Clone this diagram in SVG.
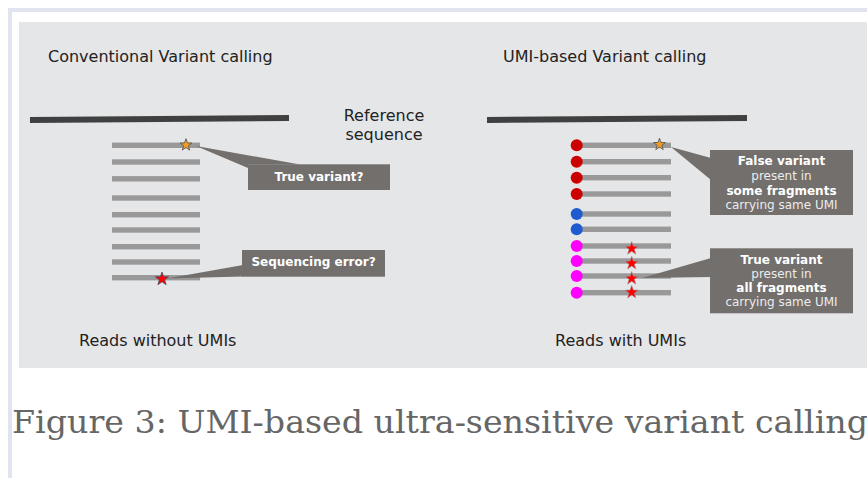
<svg xmlns="http://www.w3.org/2000/svg" width="867" height="478" viewBox="0 0 867 478">
<style>
.h{font-family:"DejaVu Sans",Verdana,sans-serif;font-size:16px;fill:#222}
.cb{font-family:"DejaVu Sans",Verdana,sans-serif;font-size:12px;fill:#fff;text-anchor:middle}
.b{font-weight:bold}
.l{fill:#ececec}
.read{fill:#999}
.box{fill:#736f6d}
.cap{font-family:"DejaVu Serif","Liberation Serif",serif;font-size:31px;fill:#666}
.ref{stroke:#404040;stroke-width:6}
</style>
<defs>
<path id="star" d="M0,-7 L1.646,-2.265 L6.657,-2.163 L2.663,0.865 L4.114,5.663 L0,2.8 L-4.114,5.663 L-2.663,0.865 L-6.657,-2.163 L-1.646,-2.265 Z"/>
</defs>
<rect width="867" height="478" fill="#fff"/>
<rect x="8" y="8" width="859" height="4" fill="#dfe4ee"/>
<rect x="8" y="8" width="4" height="470" fill="#dfe4ee"/>
<rect x="19" y="22" width="848" height="346" fill="#e5e6e8"/>

<g id="titles">
<text class="h" x="48" y="62">Conventional Variant calling</text>
<text class="h" x="503" y="62">UMI-based Variant calling</text>
<text class="h" x="384" y="121" text-anchor="middle">Reference</text>
<text class="h" x="384" y="140" text-anchor="middle">sequence</text>
<text class="h" x="79" y="346">Reads without UMIs</text>
<text class="h" x="555" y="346">Reads with UMIs</text>
</g>

<g id="reference">
<line class="ref" x1="30" y1="120" x2="289" y2="118"/>
<line class="ref" x1="487" y1="120" x2="747" y2="118"/>
</g>

<g id="left-reads">
<rect class="read" x="112" y="142.6" width="88" height="5.4"/>
<rect class="read" x="112" y="159.3" width="88" height="5.4"/>
<rect class="read" x="112" y="176.1" width="88" height="5.4"/>
<rect class="read" x="112" y="195.3" width="88" height="5.4"/>
<rect class="read" x="112" y="212" width="88" height="5.4"/>
<rect class="read" x="112" y="227.3" width="88" height="5.4"/>
<rect class="read" x="112" y="244" width="88" height="5.4"/>
<rect class="read" x="112" y="259.3" width="88" height="5.4"/>
<rect class="read" x="112" y="275" width="88" height="5.4"/>
<use href="#star" transform="translate(186,145) scale(0.9)" fill="#f39c1f" stroke="#5a5a5a" stroke-width="1"/>
<use href="#star" transform="translate(162,279)" fill="#ff0000" stroke="#4a4a6a" stroke-width="0.8"/>
</g>

<g id="right-reads">
<rect class="read" x="578" y="142.6" width="93" height="5.4"/>
<rect class="read" x="578" y="159" width="93" height="5.4"/>
<rect class="read" x="578" y="175" width="93" height="5.4"/>
<rect class="read" x="578" y="191.3" width="93" height="5.4"/>
<rect class="read" x="578" y="211.3" width="93" height="5.4"/>
<rect class="read" x="578" y="226.6" width="93" height="5.4"/>
<rect class="read" x="578" y="243.3" width="93" height="5.4"/>
<rect class="read" x="578" y="258.3" width="93" height="5.4"/>
<rect class="read" x="578" y="273.3" width="93" height="5.4"/>
<rect class="read" x="578" y="290" width="93" height="5.4"/>
<g fill="#cc0000">
<circle cx="576.7" cy="145.3" r="6"/>
<circle cx="576.7" cy="161.7" r="6"/>
<circle cx="576.7" cy="177.7" r="6"/>
<circle cx="576.7" cy="194" r="6"/>
</g>
<g fill="#1f5bd0">
<circle cx="576.7" cy="214" r="6"/>
<circle cx="576.7" cy="229.3" r="6"/>
</g>
<g fill="#ff00ff">
<circle cx="576.7" cy="246" r="6"/>
<circle cx="576.7" cy="261" r="6"/>
<circle cx="576.7" cy="276" r="6"/>
<circle cx="576.7" cy="292.7" r="6"/>
</g>
<use href="#star" transform="translate(659.5,144.5) scale(0.9)" fill="#f39c1f" stroke="#5a5a5a" stroke-width="1"/>
<g fill="#ff0000" stroke="#999" stroke-width="0.6">
<use href="#star" transform="translate(631.7,248.5)"/>
<use href="#star" transform="translate(631.7,263.3)"/>
<use href="#star" transform="translate(631.7,278.5)"/>
<use href="#star" transform="translate(631.7,292.3)"/>
</g>
</g>

<g id="connectors" class="box">
<polygon class="box" points="196,146 300,164.5 248,164.5 248,168"/>
<polygon class="box" points="167,278.5 243,265 243,276.5"/>
<polygon class="box" points="671,147 711,158 711,180"/>
<polygon class="box" points="642,278 711,258 711,277"/>
</g>

<g id="callout-true-left">
<rect class="box" x="248" y="164.3" width="142" height="25.7"/>
<text class="cb b" x="319" y="181">True variant?</text>
</g>
<g id="callout-seq-error">
<rect class="box" x="242" y="250" width="143" height="26.7"/>
<text class="cb b" x="313.5" y="266">Sequencing error?</text>
</g>
<g id="callout-false-variant">
<rect class="box" x="710" y="150" width="143" height="65"/>
<text class="cb b" x="781.5" y="165">False variant</text>
<text class="cb l" x="781.5" y="180">present in</text>
<text class="cb b" x="781.5" y="194.5">some fragments</text>
<text class="cb l" x="781.5" y="209">carrying same UMI</text>
</g>
<g id="callout-true-variant">
<rect class="box" x="710" y="248.3" width="143" height="65"/>
<text class="cb b" x="781.5" y="263.5">True variant</text>
<text class="cb l" x="781.5" y="277.5">present in</text>
<text class="cb b" x="781.5" y="292">all fragments</text>
<text class="cb l" x="781.5" y="306">carrying same UMI</text>
</g>

<text class="cap" x="12" y="433" textLength="856" lengthAdjust="spacingAndGlyphs">Figure 3: UMI-based ultra-sensitive variant calling</text>
</svg>
